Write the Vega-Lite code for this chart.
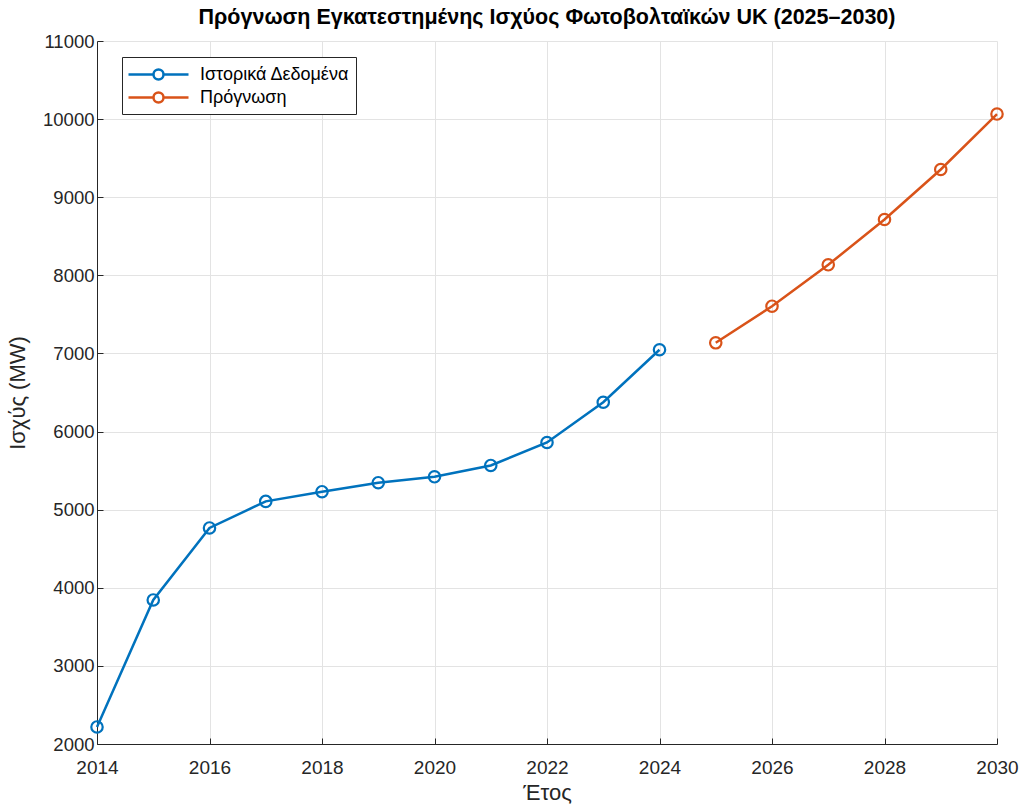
{
  "$schema": "https://vega.github.io/schema/vega-lite/v6.json",
  "width": 900,
  "height": 703,
  "autosize": {"type": "none"},
  "padding": {"left": 97, "top": 41, "right": 24, "bottom": 62},
  "background": "white",
  "title": {"text": "Πρόγνωση Εγκατεστημένης Ισχύος Φωτοβολταϊκών UK (2025–2030)", "font": "Liberation Sans", "fontSize": 21.5, "fontWeight": "bold", "color": "#000000", "offset": 4},
  "config": {
    "view": {"stroke": null},
    "axis": {"labelFont": "Liberation Sans", "titleFont": "Liberation Sans", "titleFontSize": 22, "titleFontWeight": "normal", "labelColor": "#262626", "titleColor": "#262626", "domainColor": "#262626", "tickColor": "#262626", "gridColor": "#e3e3e3", "gridWidth": 1, "tickSize": -6, "labelFlush": false}
  },
  "data": {"values": [
    {"year": 2014, "value": 2218, "series": "Ιστορικά Δεδομένα"},
    {"year": 2015, "value": 3844, "series": "Ιστορικά Δεδομένα"},
    {"year": 2016, "value": 4766, "series": "Ιστορικά Δεδομένα"},
    {"year": 2017, "value": 5106, "series": "Ιστορικά Δεδομένα"},
    {"year": 2018, "value": 5230, "series": "Ιστορικά Δεδομένα"},
    {"year": 2019, "value": 5345, "series": "Ιστορικά Δεδομένα"},
    {"year": 2020, "value": 5421, "series": "Ιστορικά Δεδομένα"},
    {"year": 2021, "value": 5566, "series": "Ιστορικά Δεδομένα"},
    {"year": 2022, "value": 5860, "series": "Ιστορικά Δεδομένα"},
    {"year": 2023, "value": 6375, "series": "Ιστορικά Δεδομένα"},
    {"year": 2024, "value": 7047, "series": "Ιστορικά Δεδομένα"},
    {"year": 2025, "value": 7136, "series": "Πρόγνωση"},
    {"year": 2026, "value": 7605, "series": "Πρόγνωση"},
    {"year": 2027, "value": 8135, "series": "Πρόγνωση"},
    {"year": 2028, "value": 8715, "series": "Πρόγνωση"},
    {"year": 2029, "value": 9355, "series": "Πρόγνωση"},
    {"year": 2030, "value": 10065, "series": "Πρόγνωση"}
  ]},
  "encoding": {
    "x": {"field": "year", "type": "quantitative", "title": "Έτος", "scale": {"domain": [2014, 2030], "nice": false, "zero": false}, "axis": {"values": [2014, 2016, 2018, 2020, 2022, 2024, 2026, 2028, 2030], "format": "d", "labelFontSize": 19, "labelPadding": 20, "titlePadding": 5, "labelFlush": false}},
    "y": {"field": "value", "type": "quantitative", "title": "Ισχύς (MW)", "scale": {"domain": [2000, 11000], "nice": false, "zero": false}, "axis": {"values": [2000, 3000, 4000, 5000, 6000, 7000, 8000, 9000, 10000, 11000], "format": "d", "labelFontSize": 18.5, "labelPadding": 9, "titlePadding": 13, "labelFlush": false}},
    "color": {"field": "series", "type": "nominal", "scale": {"domain": ["Ιστορικά Δεδομένα", "Πρόγνωση"], "range": ["#0072BD", "#D95319"]},
      "legend": {"title": null, "orient": "none", "legendX": 25, "legendY": 16, "labelFont": "Liberation Sans", "labelFontSize": 18, "labelColor": "#000000", "strokeColor": "#262626", "fillColor": "white", "padding": 6, "symbolType": "M-3,0H-0.5M0.5,0H3M0.5,0A0.5,0.5 0 1,1 -0.5,0A0.5,0.5 0 1,1 0.5,0", "symbolSize": 400, "symbolStrokeWidth": 2.5, "symbolFillColor": "transparent", "symbolOffset": 19, "rowPadding": 1, "labelOffset": 30}}
  },
  "layer": [
    {"mark": {"type": "line", "strokeWidth": 2.5}},
    {"mark": {"type": "point", "shape": "circle", "filled": false, "size": 130, "strokeWidth": 2.2, "opacity": 1}}
  ]
}
